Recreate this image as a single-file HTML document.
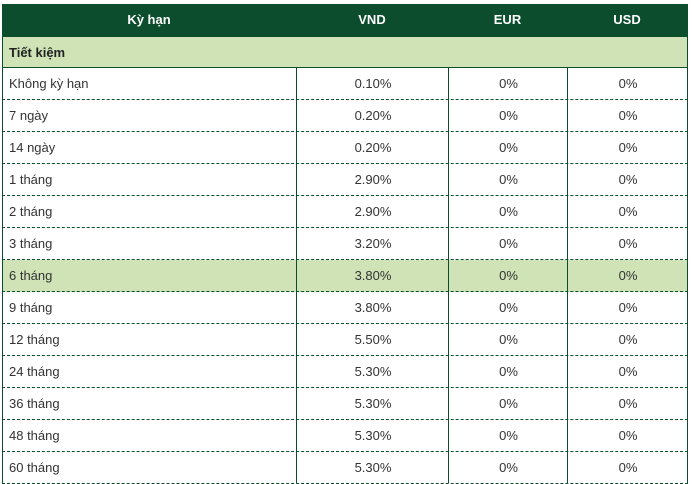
<!DOCTYPE html>
<html><head><meta charset="utf-8"><style>
body{margin:0;width:692px;height:483px;background:#fff;font-family:"Liberation Sans",Arial,sans-serif;font-size:13px;color:#333;overflow:hidden;position:relative}
.hd{position:absolute;left:2px;top:4px;width:686px;height:33px;background:#0b4d2c;color:#fff;font-weight:bold}
.hd div,.r div{position:absolute;top:0;text-align:center;line-height:32px}
.sec{position:absolute;left:2px;top:37px;width:684px;height:31px;background:#cfe3b6;border-left:1px solid #0b4d2c;border-right:1px solid #0b4d2c;font-weight:bold;color:#222;line-height:31px;padding-left:6px;box-sizing:border-box;width:686px}
.r{position:absolute;left:2px;width:686px;height:32px;box-sizing:border-box;border-left:1px solid #0b4d2c;border-right:1px solid #0b4d2c;border-bottom:1px dashed #0b4d2c}
.r .a{left:6px;text-align:left}
.c1{left:0;width:294px}.c2{left:294px;width:152px}.c3{left:446px;width:119px}.c4{left:565px;width:120px}
.v{position:absolute;top:68px;height:415px;border-left:1px solid #0b4d2c}
</style></head><body>
<div class="hd"><div class="c1">Kỳ hạn</div><div class="c2">VND</div><div class="c3">EUR</div><div class="c4">USD</div></div>
<div class="sec">Tiết kiệm</div>
<div style="position:absolute;left:2px;top:67px;width:686px;border-top:1px solid #0b4d2c"></div>
<div class="r" style="top:68px"><div class="a">Không kỳ hạn</div><div class="c2">0.10%</div><div class="c3">0%</div><div class="c4">0%</div></div>
<div class="r" style="top:100px"><div class="a">7 ngày</div><div class="c2">0.20%</div><div class="c3">0%</div><div class="c4">0%</div></div>
<div class="r" style="top:132px"><div class="a">14 ngày</div><div class="c2">0.20%</div><div class="c3">0%</div><div class="c4">0%</div></div>
<div class="r" style="top:164px"><div class="a">1 tháng</div><div class="c2">2.90%</div><div class="c3">0%</div><div class="c4">0%</div></div>
<div class="r" style="top:196px"><div class="a">2 tháng</div><div class="c2">2.90%</div><div class="c3">0%</div><div class="c4">0%</div></div>
<div class="r" style="top:228px"><div class="a">3 tháng</div><div class="c2">3.20%</div><div class="c3">0%</div><div class="c4">0%</div></div>
<div class="r" style="top:260px;background:#cfe3b6"><div class="a">6 tháng</div><div class="c2">3.80%</div><div class="c3">0%</div><div class="c4">0%</div></div>
<div class="r" style="top:292px"><div class="a">9 tháng</div><div class="c2">3.80%</div><div class="c3">0%</div><div class="c4">0%</div></div>
<div class="r" style="top:324px"><div class="a">12 tháng</div><div class="c2">5.50%</div><div class="c3">0%</div><div class="c4">0%</div></div>
<div class="r" style="top:356px"><div class="a">24 tháng</div><div class="c2">5.30%</div><div class="c3">0%</div><div class="c4">0%</div></div>
<div class="r" style="top:388px"><div class="a">36 tháng</div><div class="c2">5.30%</div><div class="c3">0%</div><div class="c4">0%</div></div>
<div class="r" style="top:420px"><div class="a">48 tháng</div><div class="c2">5.30%</div><div class="c3">0%</div><div class="c4">0%</div></div>
<div class="r" style="top:452px"><div class="a">60 tháng</div><div class="c2">5.30%</div><div class="c3">0%</div><div class="c4">0%</div></div>
<div class="v" style="left:296px"></div><div class="v" style="left:448px"></div><div class="v" style="left:567px"></div>
</body></html>
